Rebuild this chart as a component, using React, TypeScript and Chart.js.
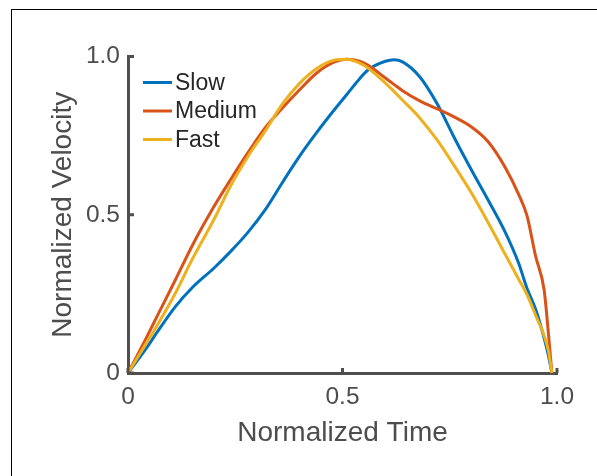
import { useEffect, useRef } from 'react';
import { Chart, registerables } from 'chart.js';

Chart.register(...registerables);

const timeValues = [0, 0.04, 0.07, 0.11, 0.15, 0.2, 0.24, 0.28, 0.32, 0.36, 0.4, 0.44, 0.48, 0.51, 0.54, 0.56, 0.6, 0.62, 0.64, 0.68, 0.72, 0.76, 0.8, 0.84, 0.88, 0.91, 0.93, 0.95, 0.97, 0.98, 0.988];
const slowValues = [0, 0.073, 0.133, 0.209, 0.27, 0.331, 0.385, 0.445, 0.516, 0.602, 0.685, 0.76, 0.83, 0.88, 0.93, 0.958, 0.985, 0.99, 0.983, 0.936, 0.852, 0.745, 0.643, 0.545, 0.443, 0.349, 0.268, 0.202, 0.11, 0.055, 0];
const mediumValues = [0, 0.104, 0.185, 0.293, 0.403, 0.525, 0.613, 0.697, 0.775, 0.837, 0.895, 0.948, 0.982, 0.991, 0.985, 0.972, 0.932, 0.912, 0.892, 0.86, 0.835, 0.809, 0.778, 0.73, 0.648, 0.566, 0.497, 0.37, 0.262, 0.125, 0];
const fastValues = [0, 0.088, 0.155, 0.251, 0.36, 0.484, 0.593, 0.685, 0.765, 0.85, 0.915, 0.962, 0.988, 0.991, 0.979, 0.963, 0.916, 0.89, 0.862, 0.806, 0.737, 0.656, 0.57, 0.474, 0.373, 0.298, 0.248, 0.183, 0.118, 0.07, 0];

const seriesNames = ['Slow', 'Medium', 'Fast'];
const seriesColors = ['#0072BD', '#D95319', '#EDB120'];
const tickValues = [0, 0.5, 1];
const xTitle = 'Normalized Time';
const yTitle = 'Normalized Velocity';

const FONT = "'Liberation Sans', Arial, Helvetica, sans-serif";
const AXIS_COLOR = '#4f4f4f';
const TEXT_COLOR = '#4d4d4d';
const LEGEND_TEXT = '#262626';

const fmt = (v: number) => (v === 0 ? '0' : v.toFixed(1));

const decorPlugin = {
  id: 'matlabDecor',
  afterDraw(chart: any) {
    const ctx = chart.ctx as CanvasRenderingContext2D;
    const { left, top, bottom } = chart.chartArea;
    const xs = chart.scales.x;
    const ys = chart.scales.y;
    ctx.save();
    ctx.strokeStyle = AXIS_COLOR;
    ctx.lineWidth = 3;
    ctx.lineCap = 'butt';
    tickValues.forEach((v) => {
      const px = xs.getPixelForValue(v);
      ctx.beginPath();
      ctx.moveTo(px, bottom);
      ctx.lineTo(px, bottom - 5);
      ctx.stroke();
      const py = ys.getPixelForValue(v);
      ctx.beginPath();
      ctx.moveTo(left, py);
      ctx.lineTo(left + 6, py);
      ctx.stroke();
    });
    // legend
    ctx.font = `23px ${FONT}`;
    ctx.textAlign = 'left';
    ctx.textBaseline = 'middle';
    seriesNames.forEach((name, i) => {
      const y = top + 26 + i * 28.5;
      ctx.strokeStyle = seriesColors[i];
      ctx.lineWidth = 3;
      ctx.beginPath();
      ctx.moveTo(left + 15, y);
      ctx.lineTo(left + 44, y);
      ctx.stroke();
      ctx.fillStyle = LEGEND_TEXT;
      ctx.fillText(name, left + 47, y + 1);
    });
    ctx.restore();
  },
};

export default function App() {
  const ref = useRef<HTMLCanvasElement>(null);

  useEffect(() => {
    const canvas = ref.current;
    if (!canvas) return;
    const seriesValues = [slowValues, mediumValues, fastValues];
    const chart = new Chart(canvas, {
      type: 'line',
      data: {
        datasets: seriesNames.map((name, i) => ({
          label: name,
          data: timeValues.map((t, j) => ({ x: t, y: seriesValues[i][j] })),
          borderColor: seriesColors[i],
          backgroundColor: seriesColors[i],
          borderWidth: 3,
          pointRadius: 0,
          fill: false,
          cubicInterpolationMode: 'monotone' as const,
          clip: false as any,
          order: 2 - i,
        })),
      },
      options: {
        animation: false,
        responsive: false,
        devicePixelRatio: 1,
        maintainAspectRatio: false,
        layout: { padding: { left: 0, top: 56.5, right: 40, bottom: 0 } },
        plugins: {
          legend: { display: false },
          tooltip: { enabled: false },
        },
        scales: {
          x: {
            type: 'linear',
            min: 0,
            max: 1,
            offset: false,
            grid: { display: false, drawTicks: false },
            border: { display: true, color: AXIS_COLOR, width: 3 },
            ticks: {
              stepSize: 0.5,
              autoSkip: false,
              maxRotation: 0,
              padding: 9.5,
              color: TEXT_COLOR,
              font: { family: FONT, size: 24.5 },
              callback: (v: any) => fmt(Number(v)),
            },
            title: {
              display: true,
              text: xTitle,
              color: TEXT_COLOR,
              font: { family: FONT, size: 28 },
              padding: { top: 0, bottom: 26.2 },
            },
            afterFit: (scale: any) => {
              scale.height = 103;
            },
          },
          y: {
            type: 'linear',
            min: 0,
            max: 1,
            grid: { display: false, drawTicks: false },
            border: { display: true, color: AXIS_COLOR, width: 3 },
            ticks: {
              stepSize: 0.5,
              padding: 8,
              color: TEXT_COLOR,
              font: { family: FONT, size: 24.5 },
              callback: (v: any) => fmt(Number(v)),
            },
            title: {
              display: true,
              text: yTitle,
              color: TEXT_COLOR,
              font: { family: FONT, size: 28 },
              padding: { top: 46.2, bottom: 0 },
            },
            afterFit: (scale: any) => {
              scale.width = 128;
            },
          },
        },
      },
      plugins: [decorPlugin],
    });
    return () => chart.destroy();
  }, []);

  return (
    <div>
      <div style={{ position: 'fixed', left: 0, top: 0, width: 597, height: 476 }}>
        <canvas ref={ref} width={597} height={476} style={{ width: 597, height: 476, display: 'block' }} />
      </div>
      <div
        style={{
          position: 'fixed',
          left: 11,
          top: 9,
          width: 700,
          height: 600,
          border: '1px solid #000',
          pointerEvents: 'none',
        }}
      />
    </div>
  );
}
